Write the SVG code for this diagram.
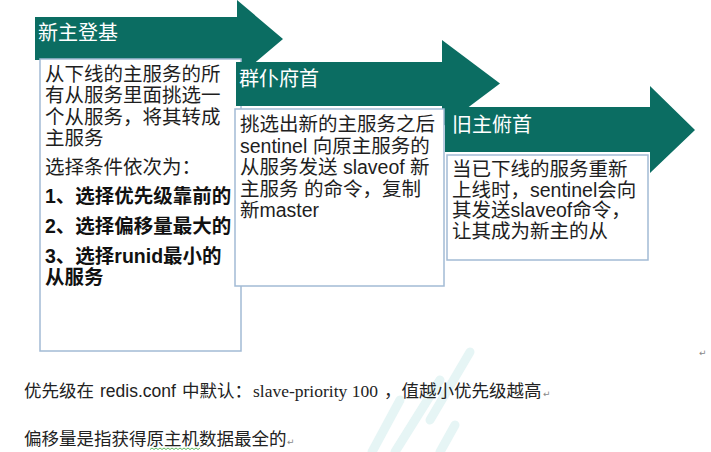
<svg xmlns="http://www.w3.org/2000/svg" width="711" height="452" viewBox="0 0 711 452">
<style>
.arrow{fill:#0b6d62}
.box{fill:#ffffff;stroke:#a2bbd5;stroke-width:1.5}
.hd{font-family:"Noto Sans CJK SC","Liberation Sans",sans-serif;font-size:20px;fill:#ffffff}
.tx{font-family:"Liberation Sans","Noto Sans CJK SC",sans-serif;font-size:19.5px;fill:#1e1e1e}
.bd{font-family:"Liberation Sans","Noto Sans CJK SC",sans-serif;font-size:19.5px;font-weight:bold;fill:#111111}
.ft{font-family:"Noto Sans CJK SC",sans-serif;font-size:17.5px;fill:#222222}
.sa{font-family:"Liberation Sans","Noto Sans CJK SC",sans-serif;font-size:17.5px;fill:#222222}
.se{font-family:"Liberation Serif",serif;font-size:17.5px;fill:#222222}
.pm{font-family:"DejaVu Sans",sans-serif;font-size:9px;fill:#888888}
.wm{fill:none;stroke:#e6f5f5;stroke-width:9;stroke-linecap:round}
</style>
<g id="watermark">
<path class="wm" d="M470 352 L430 420"/>
<path class="wm" d="M440 380 L395 452"/>
<path class="wm" d="M400 400 L372 452"/>
<path class="wm" d="M455 425 L440 452"/>
</g>
<g id="node-step1">
<polygon class="arrow" points="35,17 237,17 237,0 283,39 237,78 237,60 35,60"/>
<text class="hd" x="38" y="40">新主登基</text>
<rect class="box" x="40" y="59" width="201" height="292"/>
<text class="tx" x="45" y="81">从下线的主服务的所</text>
<text class="tx" x="45" y="102">有从服务里面挑选一</text>
<text class="tx" x="45" y="124">个从服务，将其转成</text>
<text class="tx" x="45" y="145">主服务</text>
<text class="tx" x="45" y="174">选择条件依次为：</text>
<text class="bd" x="45" y="203">1、选择优先级靠前的</text>
<text class="bd" x="45" y="233">2、选择偏移量最大的</text>
<text class="bd" x="45" y="263">3、选择runid最小的</text>
<text class="bd" x="45" y="284">从服务</text>
</g>
<g id="node-step2">
<polygon class="arrow" points="236,62 442,62 442,40 500,83.5 442,127 442,106 236,106"/>
<text class="hd" x="239" y="86">群仆府首</text>
<rect class="box" x="235" y="109" width="209" height="177"/>
<text class="tx" x="240" y="131">挑选出新的主服务之后</text>
<text class="tx" x="240" y="153">sentinel 向原主服务的</text>
<text class="tx" x="240" y="174">从服务发送 slaveof 新</text>
<text class="tx" x="240" y="196">主服务 的命令，复制</text>
<text class="tx" x="240" y="217">新master</text>
</g>
<g id="node-step3">
<polygon class="arrow" points="445,107 650,107 650,86 695,130 650,173 650,152 445,152"/>
<text class="hd" x="452" y="132">旧主俯首</text>
<rect class="box" x="447" y="155" width="201" height="105"/>
<text class="tx" x="452" y="176">当已下线的服务重新</text>
<text class="tx" x="452" y="197">上线时，sentinel会向</text>
<text class="tx" x="452" y="217">其发送slaveof命令，</text>
<text class="tx" x="452" y="238">让其成为新主的从</text>
</g>
<g id="connectors"></g>
<g id="notes">
<text class="pm" x="699" y="356">↵</text>
<text class="ft" x="24" y="397">优先级在</text>
<text class="sa" x="100" y="397">redis.conf</text>
<text class="ft" x="182" y="397">中默认：</text>
<text class="se" x="253" y="397">slave-priority 100</text>
<text class="ft" x="384" y="397">，值越小优先级越高</text>
<text class="pm" x="543" y="397">↵</text>
<text class="ft" x="24" y="445">偏移量是指获得原主机数据最全的</text>
<text class="pm" x="287" y="445">↵</text>
<path d="M150 449.5 l2 -1.5 l2 1.5 l2 -1.5 l2 1.5 l2 -1.5 l2 1.5 l2 -1.5 l2 1.5 l2 -1.5 l2 1.5 l2 -1.5 l2 1.5 l2 -1.5 l2 1.5 l2 -1.5 l2 1.5 l2 -1.5 l2 1.5 l2 -1.5 l2 1.5 l2 -1.5 l2 1.5 l2 -1.5 l2 1.5 l2 -1.5" fill="none" stroke="#3aa83a" stroke-width="0.8"/>
</g>
</svg>
